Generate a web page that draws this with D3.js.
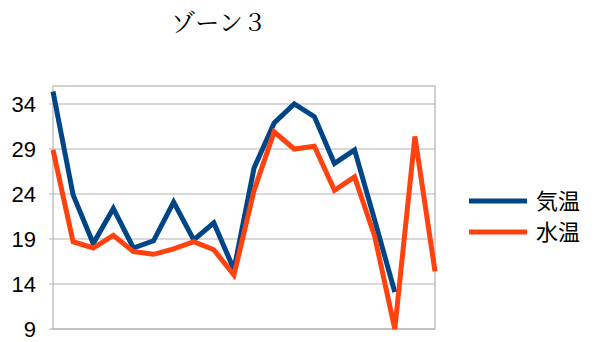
<!DOCTYPE html>
<html>
<head>
<meta charset="utf-8">
<script src="https://cdn.jsdelivr.net/npm/d3@7"></script>
<style>
  body { margin: 0; background: #fff; }
  svg text { fill: #000; }
</style>
</head>
<body>
<div id="chart"></div>
<script>
// values
const labels = d3.range(1, 21);
const airTemp = [35.4, 23.9, 18.5, 22.4, 18.0, 18.8, 23.1, 18.9, 20.8, 15.6,
                 26.9, 31.9, 34.0, 32.6, 27.4, 28.9, 21.1, 13.1, null, null];
const waterTemp = [28.9, 18.7, 18.0, 19.4, 17.6, 17.3, 17.9, 18.7, 17.8, 15.0,
                   24.4, 30.9, 29.0, 29.3, 24.4, 25.9, 19.3, 9.0, 30.4, 15.4];
const yTicks = [9, 14, 19, 24, 29, 34];
const seriesNames = ["気温", "水温"];
const colors = ["#004586", "#ff420e"];

const width = 595, height = 342;
const plot = { left: 53, right: 435, top: 86, bottom: 329 };

const svg = d3.select("#chart").append("svg")
    .attr("width", width)
    .attr("height", height);

const x = d3.scalePoint()
    .domain(labels)
    .range([plot.left, plot.right]);

const y = d3.scaleLinear()
    .domain([9, 36])
    .range([plot.bottom, plot.top]);

// grid
svg.append("g")
    .selectAll("line")
    .data(yTicks)
    .enter()
    .append("line")
    .attr("x1", plot.left - 4)
    .attr("x2", plot.right)
    .attr("y1", d => y(d))
    .attr("y2", d => y(d))
    .attr("stroke", "#b3b3b3")
    .attr("stroke-width", 1.2);

// frame
svg.append("rect")
    .attr("x", plot.left)
    .attr("y", plot.top)
    .attr("width", plot.right - plot.left)
    .attr("height", plot.bottom - plot.top)
    .attr("fill", "none")
    .attr("stroke", "#b3b3b3")
    .attr("stroke-width", 1.2);

// y tick labels
svg.append("g")
    .selectAll("text")
    .data(yTicks)
    .enter()
    .append("text")
    .attr("x", 36)
    .attr("y", d => y(d))
    .attr("dy", "0.36em")
    .attr("text-anchor", "end")
    .style("font-family", "'Liberation Sans', Arial, sans-serif")
    .style("font-size", "22px")
    .text(d => d);

const line = d3.line()
    .defined(d => d.v != null)
    .x(d => x(d.k))
    .y(d => y(d.v));

[airTemp, waterTemp].forEach((vals, i) => {
    const pts = vals.map((v, j) => ({ k: labels[j], v: v }));
    svg.append("path")
        .datum(pts)
        .attr("d", line)
        .attr("fill", "none")
        .attr("stroke", colors[i])
        .attr("stroke-width", 5)
        .attr("stroke-linejoin", "miter");
});

// title
svg.append("text")
    .attr("x", 219)
    .attr("y", 31)
    .attr("text-anchor", "middle")
    .style("font-family", "'Noto Serif CJK JP', serif")
    .style("font-size", "24px")
    .text("ゾーン３");

// legend
const legend = svg.append("g");
seriesNames.forEach((name, i) => {
    const ly = 201 + i * 31;
    legend.append("line")
        .attr("x1", 469)
        .attr("x2", 527)
        .attr("y1", ly)
        .attr("y2", ly)
        .attr("stroke", colors[i])
        .attr("stroke-width", 5);
    legend.append("text")
        .attr("x", 536)
        .attr("y", ly)
        .attr("dy", "0.36em")
        .style("font-family", "'Noto Sans CJK JP', sans-serif")
        .style("font-size", "22px")
        .text(name);
});
</script>
</body>
</html>
